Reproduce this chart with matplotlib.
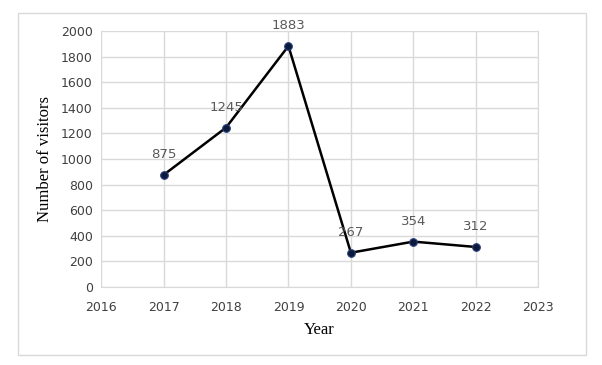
import numpy as np
import matplotlib.pyplot as plt
from matplotlib.patches import Rectangle

# data
years = [2017, 2018, 2019, 2020, 2021, 2022]
visitors = [875, 1245, 1883, 267, 354, 312]

fig = plt.figure(figsize=(6.02, 3.65), dpi=100)
ax = fig.add_axes([0.168, 0.214, 0.726, 0.701])

# outer frame like the office chart box
fig.patches.append(Rectangle((0.030, 0.027), 0.944, 0.937, transform=fig.transFigure,
                             fill=False, edgecolor='#d9d9d9', linewidth=1.0))

ax.plot(years, visitors, color='black', linewidth=1.8, marker='o', markersize=5.5,
        markerfacecolor='#0b1a3c', markeredgecolor='#2a3f7a', markeredgewidth=0.8, zorder=3)

for x, y in zip(years, visitors):
    ax.annotate(str(y), (x, y), xytext=(0, 10), textcoords='offset points',
                ha='center', va='bottom', fontsize=9.5, color='#595959')

ax.set_xlim(2016, 2023)
ax.set_ylim(0, 2000)
ax.set_xticks(np.arange(2016, 2024, 1))
ax.set_yticks(np.arange(0, 2001, 200))
ax.grid(True, color='#d9d9d9', linewidth=1.0)
ax.set_axisbelow(True)
for s in ['top', 'left']:
    ax.spines[s].set_visible(False)
ax.spines['bottom'].set_color('#d9d9d9')
ax.spines['right'].set_color('#d9d9d9')
ax.tick_params(length=0, labelsize=9, colors='#404040', pad=6)
ax.tick_params(axis='x', pad=10)

ax.set_xlabel('Year', fontsize=12, family='Liberation Serif', labelpad=6)
ax.set_ylabel('Number of visitors', fontsize=12, family='Liberation Serif', labelpad=6)

plt.savefig('out.png', dpi=100)
